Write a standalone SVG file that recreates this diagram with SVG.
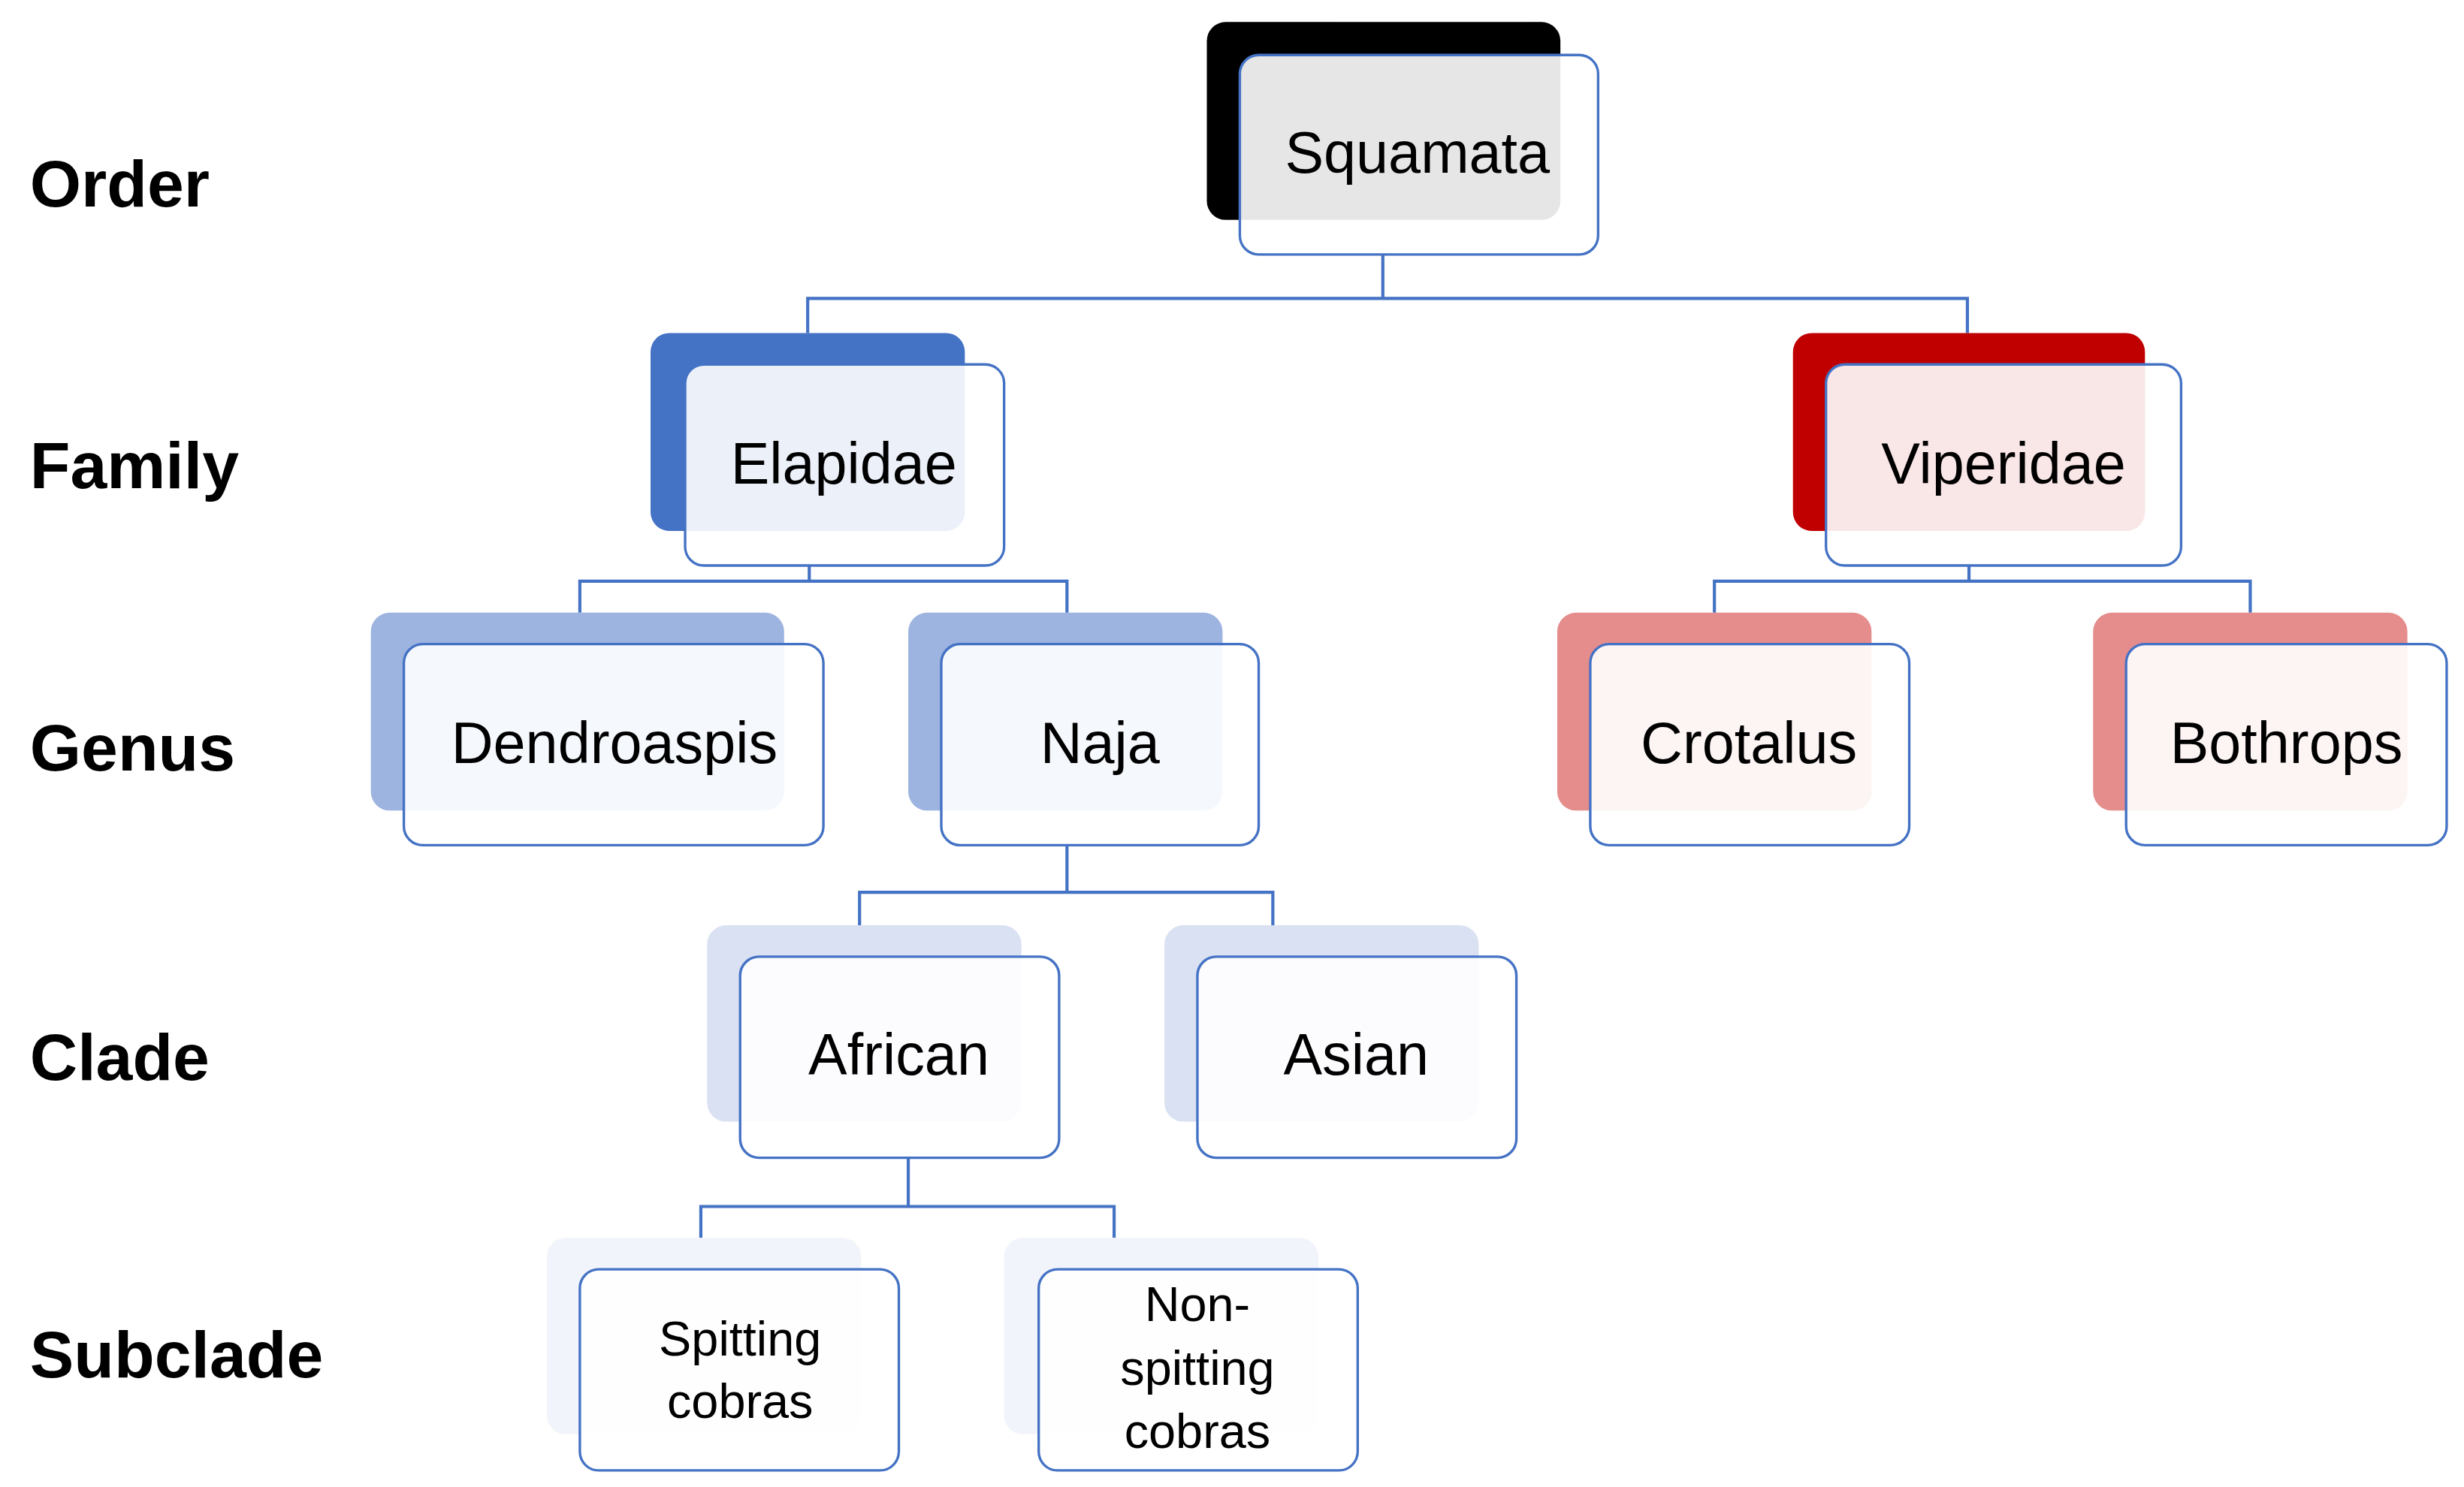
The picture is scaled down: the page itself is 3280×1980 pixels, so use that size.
<svg xmlns="http://www.w3.org/2000/svg" width="3280" height="1980" viewBox="0 0 3280 1980">
<style>
.f{fill:#fff;fill-opacity:0.9;stroke:#4472c4;stroke-width:1.6}
.t{font-family:"Liberation Sans",Arial,sans-serif;font-size:37px;fill:#000;text-anchor:middle;dominant-baseline:central}
.s{font-size:31px}
.l{font-family:"Liberation Sans",Arial,sans-serif;font-size:42px;font-weight:bold;fill:#000;dominant-baseline:central}
.c{fill:none;stroke:#4472c4;stroke-width:2}
</style>
<rect width="3280" height="1980" fill="#fff"/>
<g transform="scale(2.0918)">
<g id="labels">
<text class="l" x="19" y="117">Order</text>
<text class="l" x="19" y="296">Family</text>
<text class="l" x="19" y="476">Genus</text>
<text class="l" x="19" y="673">Clade</text>
<text class="l" x="19" y="862">Subclade</text>
</g>
<g id="connectors">
<path class="c" d="M880,162V190M514,212V190H1252V212"/>
<path class="c" d="M515,360V370M369,390V370H679V390"/>
<path class="c" d="M1253,360V370M1091,390V370H1432V390"/>
<path class="c" d="M679,538V568M547,589V568H810V589"/>
<path class="c" d="M578,737V768M446,788V768H709V788"/>
</g>
<g id="squamata"><rect x="768" y="14" width="225" height="126" rx="12" fill="#000"/><rect class="f" x="789" y="35" width="228" height="127" rx="12"/><text class="t" x="902" y="97">Squamata</text></g>
<g id="elapidae"><rect x="414" y="212" width="200" height="126" rx="12" fill="#4472c4"/><rect class="f" x="436" y="232" width="203" height="128" rx="12"/><text class="t" x="537" y="295">Elapidae</text></g>
<g id="viperidae"><rect x="1141" y="212" width="224" height="126" rx="12" fill="#c00000"/><rect class="f" x="1162" y="232" width="226" height="128" rx="12"/><text class="t" x="1275" y="295">Viperidae</text></g>
<g id="dendroaspis"><rect x="236" y="390" width="263" height="126" rx="12" fill="#9db3e0"/><rect class="f" x="257" y="410" width="267" height="128" rx="12"/><text class="t" x="391" y="473">Dendroaspis</text></g>
<g id="naja"><rect x="578" y="390" width="200" height="126" rx="12" fill="#9db3e0"/><rect class="f" x="599" y="410" width="202" height="128" rx="12"/><text class="t" x="700" y="473">Naja</text></g>
<g id="crotalus"><rect x="991" y="390" width="200" height="126" rx="12" fill="#e58c8c"/><rect class="f" x="1012" y="410" width="203" height="128" rx="12"/><text class="t" x="1113" y="473">Crotalus</text></g>
<g id="bothrops"><rect x="1332" y="390" width="200" height="126" rx="12" fill="#e58c8c"/><rect class="f" x="1353" y="410" width="204" height="128" rx="12"/><text class="t" x="1455" y="473">Bothrops</text></g>
<g id="african"><rect x="450" y="589" width="200" height="125" rx="12" fill="#dae1f2"/><rect class="f" x="471" y="609" width="203" height="128" rx="12"/><text class="t" x="572" y="671">African</text></g>
<g id="asian"><rect x="741" y="589" width="200" height="125" rx="12" fill="#dae1f2"/><rect class="f" x="762" y="609" width="203" height="128" rx="12"/><text class="t" x="863" y="671">Asian</text></g>
<g id="spitting"><rect x="348" y="788" width="200" height="125" rx="12" fill="#f2f4fb"/><rect class="f" x="369" y="808" width="203" height="128" rx="12"/><text class="t s" x="471" y="852">Spitting</text><text class="t s" x="471" y="892">cobras</text></g>
<g id="nonspitting"><rect x="639" y="788" width="200" height="125" rx="12" fill="#f2f4fb"/><rect class="f" x="661" y="808" width="203" height="128" rx="12"/><text class="t s" x="762" y="830">Non-</text><text class="t s" x="762" y="871">spitting</text><text class="t s" x="762" y="911">cobras</text></g>
</g>
</svg>
